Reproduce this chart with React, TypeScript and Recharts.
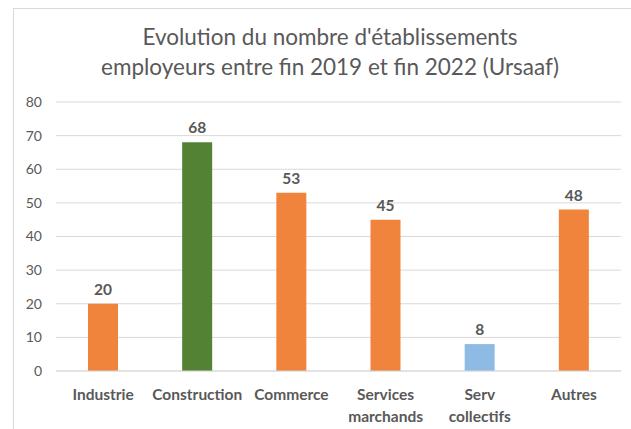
import { BarChart, Bar, XAxis, YAxis, CartesianGrid, Cell, LabelList } from "recharts";

const categories = ["Industrie", "Construction", "Commerce", "Services marchands", "Serv collectifs", "Autres"];
const values = [20, 68, 53, 45, 8, 48];
const colors = ["#F0843C", "#548235", "#F0843C", "#F0843C", "#8DBBE3", "#F0843C"];
const yTicks = [0, 10, 20, 30, 40, 50, 60, 70, 80];
const titleLines = ["Evolution du nombre d'établissements", "employeurs entre fin 2019 et fin 2022 (Ursaaf)"];

const data = categories.map((name, i) => ({ name, value: values[i] }));

const FONT = "Lato, 'Open Sans', sans-serif";
const TEXT = "#595959";

function CategoryTick(props: any) {
  const { x, y, payload } = props;
  const lines = String(payload.value).split(" ");
  return (
    <g transform={`translate(${x},${y})`}>
      {lines.map((l, i) => (
        <text
          key={i}
          x={0}
          y={21 + i * 22}
          textAnchor="middle"
          fill={TEXT}
          fontSize={15.5}
          fontWeight="bold"
          fontFamily={FONT}
        >
          {l}
        </text>
      ))}
    </g>
  );
}

export default function App() {
  return (
    <div style={{ position: "absolute", left: 0, top: 0, width: 631, height: 429, overflow: "hidden", background: "#fff" }}>
      <div
        style={{
          position: "absolute",
          left: 13,
          top: 8,
          width: 700,
          height: 500,
          border: "1px solid #d9d9d9",
        }}
      />
      <div
        style={{
          position: "absolute",
          left: 0,
          top: 22,
          width: 660,
          textAlign: "center",
          color: TEXT,
          fontFamily: FONT,
          fontSize: 22.5,
          lineHeight: "30px",
        }}
      >
        {titleLines.map((t) => (
          <div key={t}>{t}</div>
        ))}
      </div>
      <div style={{ position: "absolute", left: 0, top: 0 }}>
        <BarChart width={631} height={429} data={data} margin={{ top: 102, right: 10, bottom: 8, left: 0 }}>
          <CartesianGrid vertical={false} stroke="#d9d9d9" />
          <XAxis
            dataKey="name"
            tick={<CategoryTick />}
            tickLine={false}
            axisLine={{ stroke: "#d9d9d9" }}
            interval={0}
            height={50}
          />
          <YAxis
            domain={[0, 80]}
            ticks={yTicks}
            width={56}
            tickLine={false}
            axisLine={false}
            tickSize={0}
            tickMargin={14}
            tick={{ fill: TEXT, fontSize: 14, fontFamily: FONT }}
          />
          <Bar dataKey="value" barSize={30} isAnimationActive={false}>
            {data.map((d, i) => (
              <Cell key={d.name} fill={colors[i]} />
            ))}
            <LabelList
              dataKey="value"
              position="top"
              offset={9}
              fill={TEXT}
              fontSize={15.5}
              fontWeight="bold"
              fontFamily={FONT}
            />
          </Bar>
        </BarChart>
      </div>
    </div>
  );
}
